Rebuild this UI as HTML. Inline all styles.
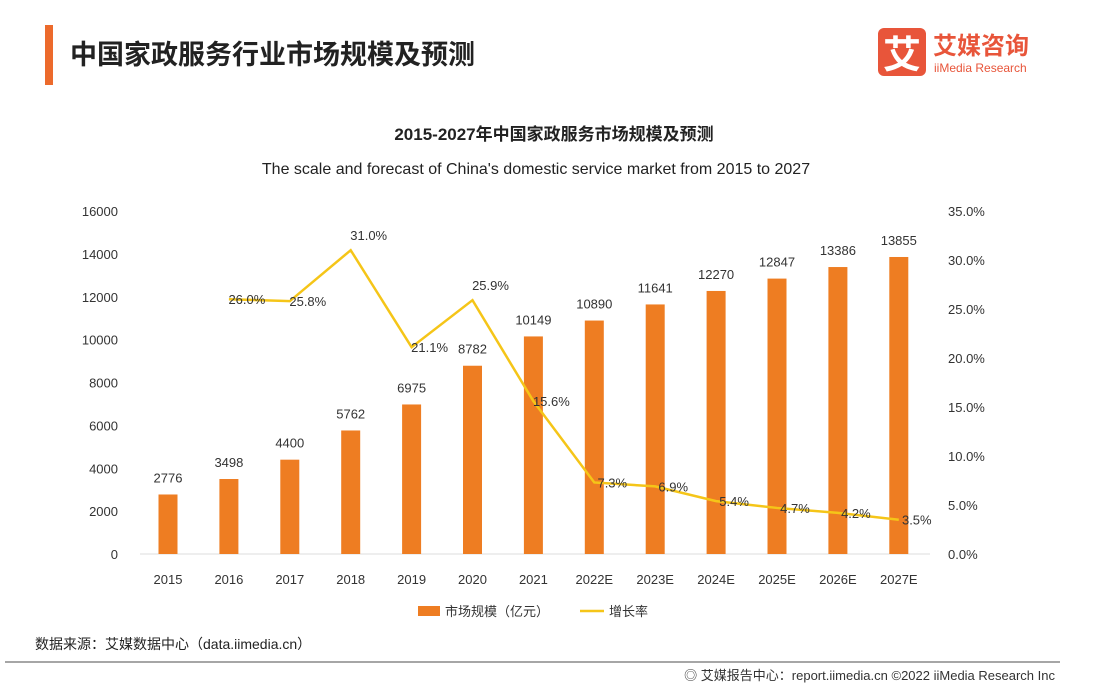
<!DOCTYPE html>
<html><head><meta charset="utf-8"><style>
body{margin:0;width:1108px;height:684px;background:#fff;overflow:hidden;font-family:"Liberation Sans","Noto Sans CJK SC",sans-serif;}
</style></head><body>
<div style="position:absolute;left:45px;top:25px;width:8px;height:60px;background:#ec6a2c"></div>
<div style="position:absolute;left:70px;top:33px;font-size:27px;font-weight:bold;color:#222;font-family:'Liberation Sans','Noto Sans CJK SC',sans-serif">中国家政服务行业市场规模及预测</div>
<div style="position:absolute;left:878px;top:28px;width:48px;height:48px;background:#e8553a;border-radius:6px;color:#fff;font-size:38px;font-weight:bold;text-align:center;line-height:48px;font-family:'Noto Sans CJK SC',sans-serif">艾</div>
<div style="position:absolute;left:933px;top:30px;font-size:24px;font-weight:bold;color:#e8553a;font-family:'Noto Sans CJK SC',sans-serif;line-height:28px">艾媒咨询</div>
<div style="position:absolute;left:934px;top:61px;font-size:12px;color:#e8553a">iiMedia Research</div>
<svg id="chart" width="1108" height="684" style="position:absolute;left:0;top:0"></svg>
<script>
const categories=["2015","2016","2017","2018","2019","2020","2021","2022E","2023E","2024E","2025E","2026E","2027E"];
const marketSize=[2776,3498,4400,5762,6975,8782,10149,10890,11641,12270,12847,13386,13855];
const growth=[null,26.0,25.8,31.0,21.1,25.9,15.6,7.3,6.9,5.4,4.7,4.2,3.5];
const leftTicks=[0,2000,4000,6000,8000,10000,12000,14000,16000];
const rightTicks=[0,5,10,15,20,25,30,35];
const svg=document.getElementById('chart');
const NS='http://www.w3.org/2000/svg';
const y0=554,yTop=211,x0=168,step=60.9;
const yL=v=>y0-v/16000*(y0-yTop);
const yR=v=>y0-v/35*(y0-yTop);
const xC=i=>x0+i*step;
function mk(tag,attrs,txt){const e=document.createElementNS(NS,tag);for(const k in attrs)e.setAttribute(k,attrs[k]);if(txt!==undefined)e.textContent=txt;svg.appendChild(e);return e;}
let t;
t=mk('text',{x:554,y:140,'text-anchor':'middle','font-size':17,'font-weight':'bold',fill:'#222'},'2015-2027年中国家政服务市场规模及预测');

t=mk('text',{x:536,y:174,'text-anchor':'middle','font-size':16,fill:'#222'},"The scale and forecast of China's domestic service market from 2015 to 2027");

t=mk('line',{x1:140,x2:930,y1:y0,y2:y0,stroke:'#ddd'});

leftTicks.forEach(v=>{t=mk('text',{x:118,y:yL(v)+5,'text-anchor':'end','font-size':13,fill:'#333'},String(v));
});
rightTicks.forEach(v=>{t=mk('text',{x:948,y:yR(v)+5,'font-size':13,fill:'#333'},v.toFixed(1)+'%');
});
categories.forEach((c,i)=>{
t=mk('text',{x:xC(i),y:584,'text-anchor':'middle','font-size':13,fill:'#333'},c);

t=mk('rect',{x:xC(i)-9.5,y:yL(marketSize[i]),width:19,height:y0-yL(marketSize[i]),fill:'#ee7d22'});

t=mk('text',{x:xC(i),y:yL(marketSize[i])-12,'text-anchor':'middle','font-size':13,fill:'#333'},String(marketSize[i]));

});
let pts=[];growth.forEach((g,i)=>{if(g!==null)pts.push(xC(i)+','+yR(g));});
t=mk('polyline',{points:pts.join(' '),fill:'none',stroke:'#f5c518','stroke-width':2.5});

growth.forEach((g,i)=>{if(g===null)return;
t=mk('text',{x:xC(i)+18,y:yR(g)+(i===3||i===5?-10:5),'text-anchor':'middle','font-size':13,fill:'#333'},g.toFixed(1)+'%');
});
t=mk('rect',{x:418,y:606,width:22,height:10,fill:'#ee7d22'});

t=mk('text',{x:445,y:616,'font-size':13,fill:'#333'},'市场规模（亿元）');

t=mk('line',{x1:580,x2:604,y1:611,y2:611,stroke:'#f5c518','stroke-width':2.5});

t=mk('text',{x:609,y:616,'font-size':13,fill:'#333'},'增长率');

t=mk('text',{x:35,y:649,'font-size':14,fill:'#222'},'数据来源：艾媒数据中心（data.iimedia.cn）');

t=mk('line',{x1:5,x2:1060,y1:662,y2:662,stroke:'#888','stroke-width':1.5});

t=mk('text',{x:1055,y:680,'text-anchor':'end','font-size':13,fill:'#333'},'◎ 艾媒报告中心：report.iimedia.cn  ©2022  iiMedia Research  Inc');

</script>
</body></html>
